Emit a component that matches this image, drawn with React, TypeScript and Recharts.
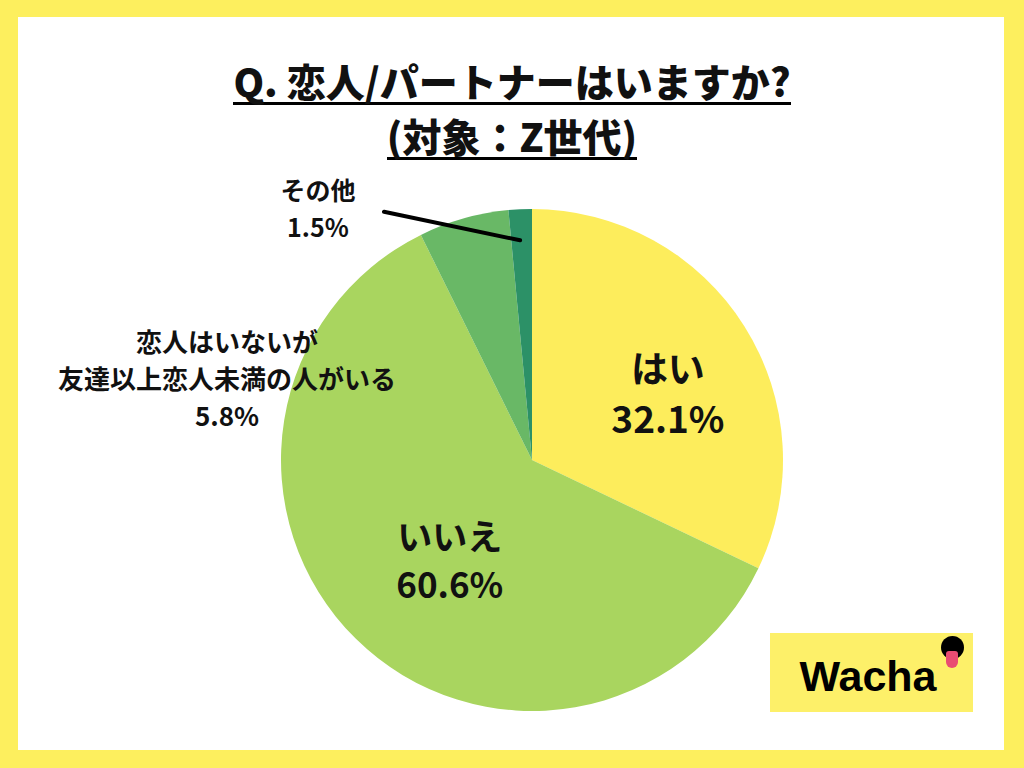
import React from 'react'
import { PieChart, Pie, Cell } from 'recharts'

// 恋人/パートナーの有無（Z世代）
const categories = ['はい', 'いいえ', '恋人はいないが\n友達以上恋人未満の人がいる', 'その他']
const values = [32.1, 60.6, 5.8, 1.5]
const colors = ['#fded5c', '#a9d55f', '#69b866', '#2c9167']

const titleLines = ['Q. 恋人/パートナーはいますか?', '(対象：Z世代)']

// label placement relative to each slice's mid angle (radius px, angle offset deg)
const LABEL_LAYOUT = [
  { r: 152, dA: -5.6, size: 37, lh: 50 },
  { r: 128, dA: 4.7, size: 35, lh: 48 },
  { r: 316, dA: 59, size: 26, lh: 37 },
  { r: 331, dA: 37.6, size: 25, lh: 37 },
]

const FONT = '"Noto Sans CJK JP", "Noto Sans", sans-serif'
const RAD = Math.PI / 180

const data = categories.map((name, i) => ({ name, value: values[i] }))

function polar(cx: number, cy: number, r: number, deg: number) {
  return { x: cx + r * Math.cos(-deg * RAD), y: cy + r * Math.sin(-deg * RAD) }
}

function SliceLabel(props: any) {
  const { cx, cy, midAngle, index, name, value } = props
  const cfg = LABEL_LAYOUT[index]
  const p = polar(cx, cy, cfg.r, midAngle + cfg.dA)
  const lines = [...String(name).split('\n'), `${value}%`]
  const top = p.y - ((lines.length - 1) * cfg.lh) / 2
  return (
    <g>
      {index === 3 && (() => {
        const a = polar(cx, cy, 220, midAngle + 0.4)
        const b = polar(cx, cy, 289, midAngle + 28.1)
        return <line x1={a.x} y1={a.y} x2={b.x} y2={b.y} stroke="#000" strokeWidth={4} strokeLinecap="round" />
      })()}
      <text
        x={p.x}
        y={top}
        textAnchor="middle"
        fontFamily={FONT}
        fontWeight={700}
        fontSize={cfg.size}
        fill="#111"
      >
        {lines.map((l, k) => (
          <tspan key={k} x={p.x} y={top + k * cfg.lh} dominantBaseline="central">{l}</tspan>
        ))}
      </text>
    </g>
  )
}

export default function App() {
  return (
    <div style={{
      position: 'fixed', left: 0, top: 0, width: 1024, height: 768,
      background: '#fdef5e', fontFamily: FONT,
    }}>
      <div style={{
        position: 'absolute', left: 18, top: 17, width: 986, height: 733, background: '#fff',
      }} />

      <div style={{ position: 'absolute', left: 0, top: 0 }}>
        <PieChart width={1024} height={768} margin={{ top: 0, right: 0, bottom: 0, left: 0 }}>
          <Pie
            data={data}
            dataKey="value"
            nameKey="name"
            cx={532}
            cy={460}
            outerRadius={251}
            startAngle={90}
            endAngle={-270}
            stroke="none"
            label={SliceLabel}
            labelLine={false}
            isAnimationActive={false}
          >
            {data.map((d, i) => <Cell key={d.name} fill={colors[i]} />)}
          </Pie>
        </PieChart>
      </div>

      {/* title */}
      {titleLines.map((t, i) => (
        <div key={t} style={{
          position: 'absolute', left: 0, width: 1024, top: i === 0 ? 58 : 113,
          textAlign: 'center',
        }}>
          <span style={{
            display: 'inline-block', fontSize: 39, fontWeight: 900, lineHeight: '44px',
            borderBottom: '3px solid #000', color: '#111', letterSpacing: '0px',
          }}>{t}</span>
        </div>
      ))}

      {/* Wacha logo */}
      <div style={{
        position: 'absolute', left: 770, top: 633, width: 203, height: 79, background: '#fdf069',
      }}>
        <div style={{
          position: 'absolute', left: 0, width: 196, top: 18, textAlign: 'center',
          fontFamily: '"Liberation Sans", Arial, sans-serif', fontWeight: 700, fontSize: 43,
          lineHeight: '50px', color: '#000',
        }}>Wacha</div>
        <div style={{
          position: 'absolute', left: 171, top: 3, width: 23, height: 23, borderRadius: '50%', background: '#000',
        }} />
        <div style={{
          position: 'absolute', left: 176, top: 18, width: 12, height: 17,
          borderRadius: '3px 3px 6px 6px', background: '#e94c72',
        }} />
      </div>
    </div>
  )
}
